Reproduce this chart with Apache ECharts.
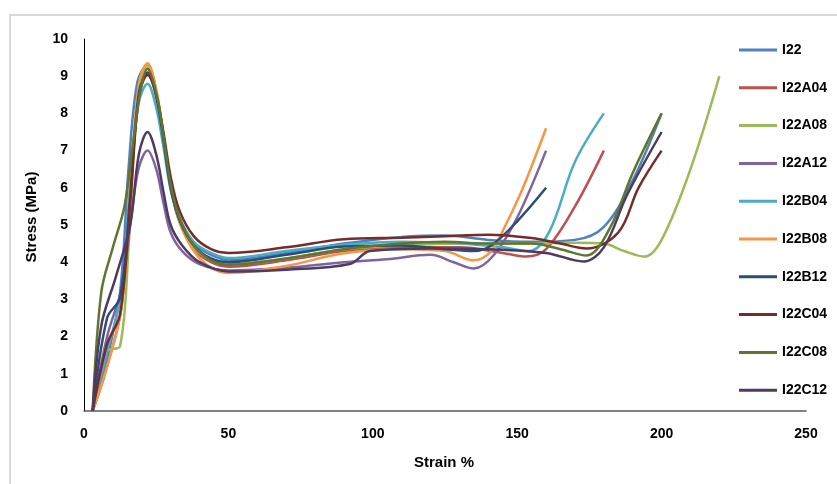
<!DOCTYPE html>
<html>
<head>
<meta charset="utf-8">
<script src="https://cdn.jsdelivr.net/npm/echarts@6/dist/echarts.min.js"></script>
<style>
  html, body { margin: 0; padding: 0; background: #ffffff; }
  #chart { width: 837px; height: 484px; }
</style>
</head>
<body>
<div id="chart"></div>
<script>
// Stress–strain curves, [strain %, stress MPa] pairs per sample
const i22    = [[3,0],[8,1.4],[12.5,3.2],[15.5,6.6],[18.5,8.85],[22,9.3],[25,8.6],[27.5,7.4],[30,6.1],[33,5.2],[38,4.5],[44,4.2],[50,4.06],[70,4.25],[90,4.5],[110,4.68],[125,4.72],[140,4.6],[155,4.55],[170,4.6],[180,4.95],[190,6.2],[200,8.0]];
const i22A04 = [[3,0],[8,1.2],[13,2.8],[16,5.9],[19,8.65],[22,9.2],[25,8.5],[27.5,7.3],[30,6.0],[33,5.1],[38,4.35],[44,4.0],[50,3.88],[70,4.05],[90,4.3],[110,4.4],[130,4.4],[145,4.25],[153,4.15],[160,4.35],[170,5.5],[180,7.0]];
const i22A08 = [[3,0],[8,1.6],[12.5,1.75],[15.5,4.5],[18.5,8.2],[22,9.3],[25,8.6],[27.5,7.4],[30,6.1],[33,5.1],[38,4.4],[44,4.05],[50,3.95],[70,4.1],[90,4.35],[110,4.45],[130,4.5],[150,4.5],[170,4.52],[180,4.5],[187,4.3],[194,4.15],[200,4.6],[210,6.5],[220,9.0]];
const i22A12 = [[3,0],[8,2.0],[13,3.3],[16.5,5.3],[19,6.55],[22,7.0],[25,6.5],[27.5,5.6],[30,4.8],[34,4.3],[40,3.95],[50,3.78],[70,3.85],[90,4.0],[105,4.08],[120,4.2],[128,4.0],[135,3.83],[142,4.2],[150,5.2],[160,7.0]];
const i22B04 = [[3,0],[8,1.6],[13,3.2],[16,6.1],[19,8.3],[22,8.8],[25,8.15],[27.5,7.1],[30,5.95],[33,5.2],[38,4.55],[44,4.25],[50,4.11],[70,4.3],[90,4.47],[110,4.55],[130,4.5],[145,4.4],[154,4.3],[161,4.8],[170,6.7],[180,8.0]];
const i22B08 = [[3,0],[8,1.2],[13,2.8],[16,5.9],[19,8.8],[22,9.35],[25,8.65],[27.5,7.4],[30,6.1],[33,5.1],[38,4.3],[44,3.85],[50,3.71],[70,3.9],[90,4.24],[110,4.35],[125,4.3],[135,4.05],[141,4.3],[146,5.0],[152,6.0],[160,7.6]];
const i22B12 = [[3,0],[8,2.5],[12.5,3.05],[16,5.8],[19,8.55],[22,9.1],[25,8.45],[27.5,7.3],[30,6.0],[33,5.15],[38,4.45],[44,4.1],[50,4.0],[70,4.2],[90,4.42],[110,4.45],[125,4.35],[135,4.3],[141,4.45],[150,5.1],[160,6.0]];
const i22C04 = [[3,0],[8,1.8],[12.5,2.6],[16,5.6],[19,8.45],[22,9.03],[25,8.5],[27.5,7.5],[30,6.3],[33,5.4],[38,4.7],[44,4.35],[50,4.25],[70,4.4],[90,4.62],[110,4.66],[125,4.7],[140,4.74],[155,4.65],[165,4.5],[174,4.37],[185,4.8],[192,6.0],[200,7.0]];
const i22C08 = [[3,0],[6,3.2],[10,4.4],[14,5.5],[17,7.2],[19.5,8.6],[22,9.2],[25,8.55],[27.5,7.4],[30,6.1],[33,5.2],[38,4.45],[44,4.05],[50,3.93],[70,4.1],[90,4.35],[110,4.5],[125,4.55],[140,4.5],[155,4.5],[165,4.35],[174,4.18],[182,4.9],[190,6.4],[200,8.0]];
const i22C12 = [[3,0],[6,2.3],[11,3.6],[16,5.0],[19,6.9],[22,7.5],[25,6.9],[27.5,5.9],[30,5.0],[34,4.45],[40,4.0],[50,3.75],[70,3.8],[92,3.95],[99,4.3],[120,4.37],[140,4.35],[160,4.25],[173,4.02],[180,4.4],[188,5.8],[200,7.5]];

const sampleNames = ['I22','I22A04','I22A08','I22A12','I22B04','I22B08','I22B12','I22C04','I22C08','I22C12'];
const sampleData  = [i22, i22A04, i22A08, i22A12, i22B04, i22B08, i22B12, i22C04, i22C08, i22C12];
const sampleColors = ['#4F81BD','#C0504D','#9BBB59','#8064A2','#4BACC6','#F79646','#2C4D75','#772C2A','#5F7530','#4D3B62'];

const strainTicks = { min: 0, max: 250, interval: 50 };
const stressTicks = { min: 0, max: 10, interval: 1 };

const FONT = "'Liberation Sans', Arial, sans-serif";

const chart = echarts.init(document.getElementById('chart'), null, { renderer: 'canvas' });

chart.setOption({
  backgroundColor: '#ffffff',
  animation: false,
  color: sampleColors,
  grid: { left: 84, right: 31, top: 39, bottom: 73, containLabel: false },
  xAxis: {
    type: 'value',
    min: strainTicks.min, max: strainTicks.max, interval: strainTicks.interval,
    axisLine: { show: true, onZero: false, lineStyle: { color: '#595959', width: 1.5 } },
    axisTick: { show: false },
    splitLine: { show: false },
    axisLabel: { color: '#000', fontFamily: FONT, fontWeight: 'bold', fontSize: 14, margin: 16 }
  },
  yAxis: {
    type: 'value',
    min: stressTicks.min, max: stressTicks.max, interval: stressTicks.interval,
    axisLine: { show: true, lineStyle: { color: '#000', width: 1 } },
    axisTick: { show: false },
    splitLine: { show: false },
    axisLabel: { color: '#000', fontFamily: FONT, fontWeight: 'bold', fontSize: 14, margin: 16 }
  },
  legend: {
    orient: 'vertical',
    left: 734,
    top: 37,
    icon: 'rect',
    itemWidth: 38,
    itemHeight: 3,
    itemGap: 21.8,
    textStyle: { color: '#000', fontFamily: FONT, fontWeight: 'bold', fontSize: 14, lineHeight: 16 },
    data: sampleNames
  },
  graphic: [
    {
      type: 'rect', silent: true, z: -1,
      shape: { x: 10, y: 15, width: 900, height: 600 },
      style: { fill: 'none', stroke: '#d9d9d9', lineWidth: 2 }
    },
    {
      type: 'text', x: 32, y: 217, rotation: Math.PI / 2,
      style: { text: 'Stress (MPa)', fill: '#000', font: "bold 15px 'Liberation Sans', Arial, sans-serif", textAlign: 'center', textVerticalAlign: 'middle' }
    },
    {
      type: 'text', x: 444, y: 463,
      style: { text: 'Strain %', fill: '#000', font: "bold 15px 'Liberation Sans', Arial, sans-serif", textAlign: 'center', textVerticalAlign: 'middle' }
    }
  ],
  series: sampleNames.map((name, i) => ({
    name: name,
    type: 'line',
    data: sampleData[i],
    smooth: 0.35,
    showSymbol: false,
    symbol: 'none',
    lineStyle: { width: 2.5, color: sampleColors[i] },
    itemStyle: { color: sampleColors[i] }
  }))
});
</script>
</body>
</html>
